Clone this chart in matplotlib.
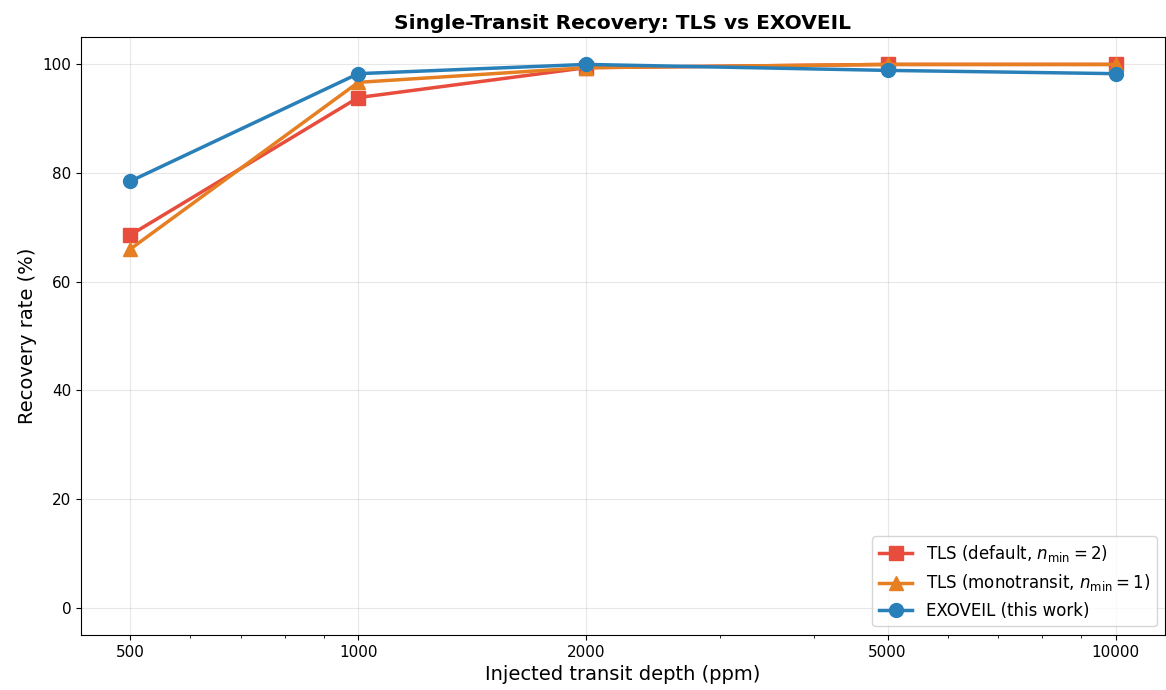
import matplotlib
matplotlib.use("Agg")
import matplotlib.pyplot as plt
from matplotlib.ticker import FixedLocator, FixedFormatter, NullFormatter

depths = [500, 1000, 2000, 5000, 10000]
tls_default = [68.6, 93.9, 99.4, 100.0, 100.0]
tls_mono = [66.0, 96.7, 99.4, 100.0, 100.0]
exoveil = [78.5, 98.3, 100.0, 98.9, 98.3]
tick_labels = ['500', '1000', '2000', '5000', '10000']

fig, ax = plt.subplots(figsize=(11.66, 6.9), dpi=100)
ax.plot(depths, tls_default, marker='s', color='#e74c3c', lw=2.5, ms=10,
        label=r'TLS (default, $n_{\min}=2$)')
ax.plot(depths, tls_mono, marker='^', color='#e67e22', lw=2.5, ms=10,
        label=r'TLS (monotransit, $n_{\min}=1$)')
ax.plot(depths, exoveil, marker='o', color='#2980b9', lw=2.5, ms=10,
        label='EXOVEIL (this work)')

ax.set_xscale('log')
ax.xaxis.set_major_locator(FixedLocator(depths))
ax.xaxis.set_major_formatter(FixedFormatter(tick_labels))
ax.xaxis.set_minor_formatter(NullFormatter())
ax.set_ylim(-5, 105)
ax.tick_params(labelsize=11)
ax.set_xlabel('Injected transit depth (ppm)', fontsize=14)
ax.set_ylabel('Recovery rate (%)', fontsize=14)
ax.set_title('Single-Transit Recovery: TLS vs EXOVEIL', fontsize=14.5, fontweight='bold')
ax.grid(True, alpha=0.3)
ax.legend(loc='lower right', fontsize=12)
fig.subplots_adjust(left=0.0695, right=0.999, top=0.946, bottom=0.08)
fig.savefig('out.png')
